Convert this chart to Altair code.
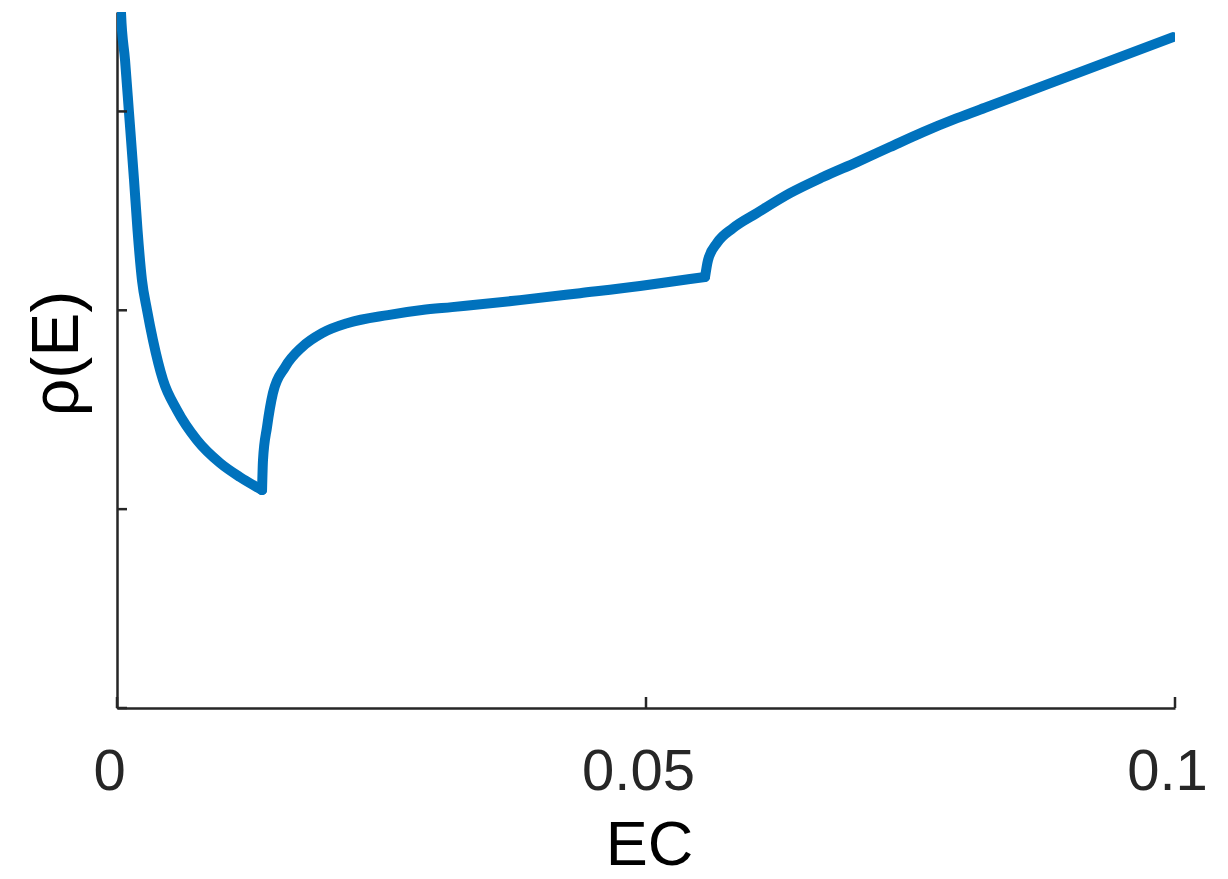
import altair as alt
import pandas as pd

# curve, in three pieces (break at the cusp and at the kink)
ec_a = [0.0001, 0.00038, 0.00076, 0.00113, 0.00161, 0.00194, 0.00236, 0.00284,
        0.00340, 0.00435, 0.00567, 0.00756, 0.00974, 0.01163, 0.01371]
rho_a = [4.0, 3.494, 3.258, 2.997, 2.655, 2.403, 2.152, 2.001,
         1.850, 1.649, 1.498, 1.347, 1.232, 1.161, 1.096]
ec_b = [0.01371, 0.01380, 0.01418, 0.01474, 0.01588, 0.01749, 0.01938, 0.02183,
        0.02561, 0.02883, 0.03166, 0.03809, 0.04376, 0.04943, 0.05416, 0.05558]
rho_b = [1.096, 1.247, 1.413, 1.584, 1.714, 1.815, 1.885, 1.936,
         1.976, 2.001, 2.016, 2.051, 2.086, 2.122, 2.157, 2.167]
ec_c = [0.05558, 0.05586, 0.05671, 0.05822, 0.06049, 0.06361, 0.06673,
        0.06994, 0.07306, 0.07618, 0.07940, 0.08223, 0.09102, 0.09981]
rho_c = [2.167, 2.252, 2.338, 2.413, 2.489, 2.589, 2.670,
         2.745, 2.821, 2.896, 2.966, 3.022, 3.198, 3.374]

x_ticks = [0, 0.05, 0.1]
y_ticks = [0, 1, 2, 3]
x_domain = [0, 0.1]
y_domain = [0, 3.5]

AX = "#262626"
FONT = "Liberation Sans"
W, H = 1058, 696

df = pd.concat([
    pd.DataFrame({"EC": ec_a, "rho": rho_a, "seg": "a"}),
    pd.DataFrame({"EC": ec_b, "rho": rho_b, "seg": "b"}),
    pd.DataFrame({"EC": ec_c, "rho": rho_c, "seg": "c"}),
], ignore_index=True)

xs = alt.Scale(domain=x_domain, nice=False, zero=False)
ys = alt.Scale(domain=y_domain, nice=False)

xaxis = alt.Axis(values=x_ticks, format="~g", grid=False, ticks=False,
                 labelFontSize=58, labelFont=FONT, labelColor=AX,
                 labelPadding=35, labelOffset=-8, labelFlush=False, labelOverlap=False,
                 domainColor=AX, domainWidth=2.5,
                 titleFontSize=63, titleFont=FONT, titleColor="#000000",
                 titleFontWeight="normal", titleBaseline="alphabetic",
                 titleX=532, titleY=156, titleAlign="center")
yaxis = alt.Axis(values=y_ticks, labels=False, grid=False, ticks=False,
                 domainColor=AX, domainWidth=2.5,
                 titleFontSize=66, titleFont=FONT, titleColor="#000000",
                 titleFontWeight="normal", titleBaseline="alphabetic",
                 titleAngle=-90, titleX=-40, titleY=341, titleAlign="center")

line = alt.Chart(df).mark_line(
    color="#0072BD", strokeWidth=10, clip=True, strokeCap="round",
    strokeJoin="round", interpolate="monotone"
).encode(
    x=alt.X("EC:Q", scale=xs, title="EC", axis=xaxis),
    y=alt.Y("rho:Q", scale=ys, title="ρ(E)", axis=yaxis),
    detail="seg:N",
)

ytick = alt.Chart(pd.DataFrame({"v": y_ticks})).mark_rule(
    color=AX, strokeWidth=2.5
).encode(
    y=alt.Y("v:Q", scale=ys, title="ρ(E)", axis=yaxis),
    x=alt.value(0), x2=alt.value(10),
)

xtick = alt.Chart(pd.DataFrame({"v": x_ticks})).mark_rule(
    color=AX, strokeWidth=2.5
).encode(
    x=alt.X("v:Q", scale=xs, title="EC", axis=xaxis),
    y=alt.value(H), y2=alt.value(H - 11),
)

chart = alt.layer(line, ytick, xtick).properties(
    width=W, height=H,
    autosize=alt.AutoSizeParams(type="none"),
    padding={"left": 117, "top": 12, "right": 53, "bottom": 171},
).configure(background="white").configure_view(strokeWidth=0)

chart.save("out.html", embed_options={"renderer": "svg", "actions": False})
